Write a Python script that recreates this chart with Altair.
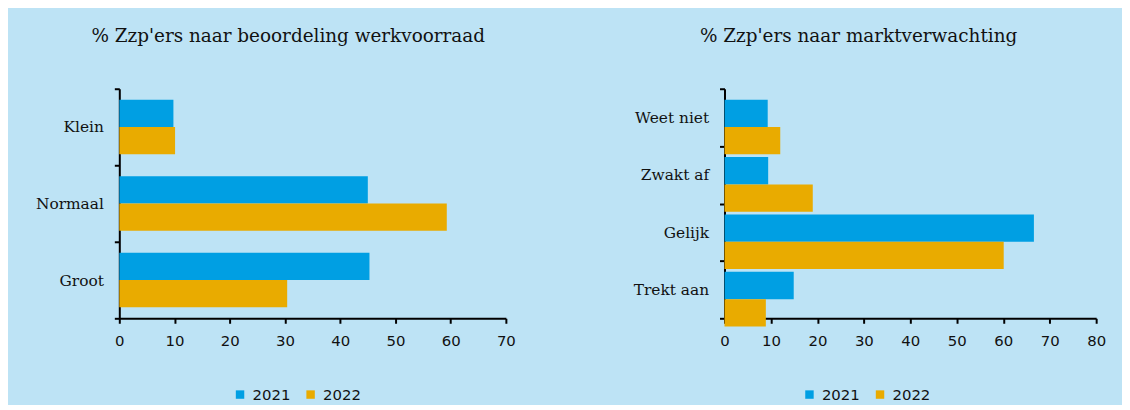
import altair as alt
import pandas as pd

years = ["2021", "2022"]

left_title = "% Zzp'ers naar beoordeling werkvoorraad"
left_cats = ["Klein", "Normaal", "Groot"]
left_2021 = [9.8, 45.0, 45.3]
left_2022 = [10.1, 59.3, 30.4]
left_ticks = [0, 10, 20, 30, 40, 50, 60, 70]

right_title = "% Zzp'ers naar marktverwachting"
right_cats = ["Weet niet", "Zwakt af", "Gelijk", "Trekt aan"]
right_2021 = [9.3, 9.4, 66.6, 14.9]
right_2022 = [12.0, 19.0, 60.1, 8.9]
right_ticks = [0, 10, 20, 30, 40, 50, 60, 70, 80]

BG = "#BDE3F5"
BLUE = "#009FE3"
ORANGE = "#E9AB00"
INK = "#111111"


def make_df(cats, v21, v22):
    rows = []
    for c, a, b in zip(cats, v21, v22):
        rows.append({"cat": c, "year": "2021", "value": a})
        rows.append({"cat": c, "year": "2022", "value": b})
    return pd.DataFrame(rows)


def panel(df, cats, title, ticks, w, h, off_pad, lx, ly, t_offset, t_dx):
    return (
        alt.Chart(
            df,
            title=alt.Title(
                title, font="DejaVu Serif", fontSize=18.5, fontWeight="normal",
                color=INK, offset=t_offset, anchor="middle", dx=t_dx,
            ),
        )
        .mark_bar()
        .encode(
            y=alt.Y(
                "cat:N", sort=cats, title=None,
                scale=alt.Scale(paddingInner=0, paddingOuter=0),
                axis=alt.Axis(
                    tickBand="extent", labelFont="DejaVu Serif", labelFontSize=15.5,
                    labelColor=INK, labelPadding=11, tickSize=5, tickWidth=2,
                    tickColor="black", domainColor="black", domainWidth=2,
                ),
            ),
            yOffset=alt.YOffset("year:N", sort=years,
                                scale=alt.Scale(paddingInner=0, paddingOuter=off_pad)),
            x=alt.X(
                "value:Q", title=None,
                scale=alt.Scale(domain=[ticks[0], ticks[-1]], nice=False),
                axis=alt.Axis(
                    values=ticks, grid=False, labelFont="DejaVu Sans", labelFontSize=15,
                    labelColor=INK, labelPadding=10, labelFlush=False, tickSize=5,
                    tickWidth=2, tickColor="black", domainColor="black", domainWidth=2,
                ),
            ),
            color=alt.Color(
                "year:N", sort=years,
                scale=alt.Scale(domain=years, range=[BLUE, ORANGE]),
                legend=alt.Legend(
                    orient="none", legendX=lx, legendY=ly, direction="horizontal",
                    title=None, symbolType="square", symbolSize=72, padding=0,
                    symbolStrokeWidth=0, labelFont="DejaVu Sans", labelFontSize=15,
                    labelColor=INK, columnPadding=12, labelOffset=5,
                ),
            ),
        )
        .properties(width=w, height=h)
    )


left = panel(make_df(left_cats, left_2021, left_2022), left_cats, left_title,
             left_ticks, 389, 231, 0.4, 114, 300, 37, -24.5)
right = panel(make_df(right_cats, right_2021, right_2022), right_cats, right_title,
              right_ticks, 374, 231, 0.444, 78, 300, 37, -52)

chart = (
    alt.hconcat(left, right, spacing=118)
    .resolve_scale(color="independent")
    .resolve_legend(color="independent")
    .properties(padding={"left": 27, "top": 17, "right": 16, "bottom": 1})
    .configure(background=BG)
    .configure_view(stroke=None)
)

chart.save("out.html", embed_options={"renderer": "svg", "actions": False})
